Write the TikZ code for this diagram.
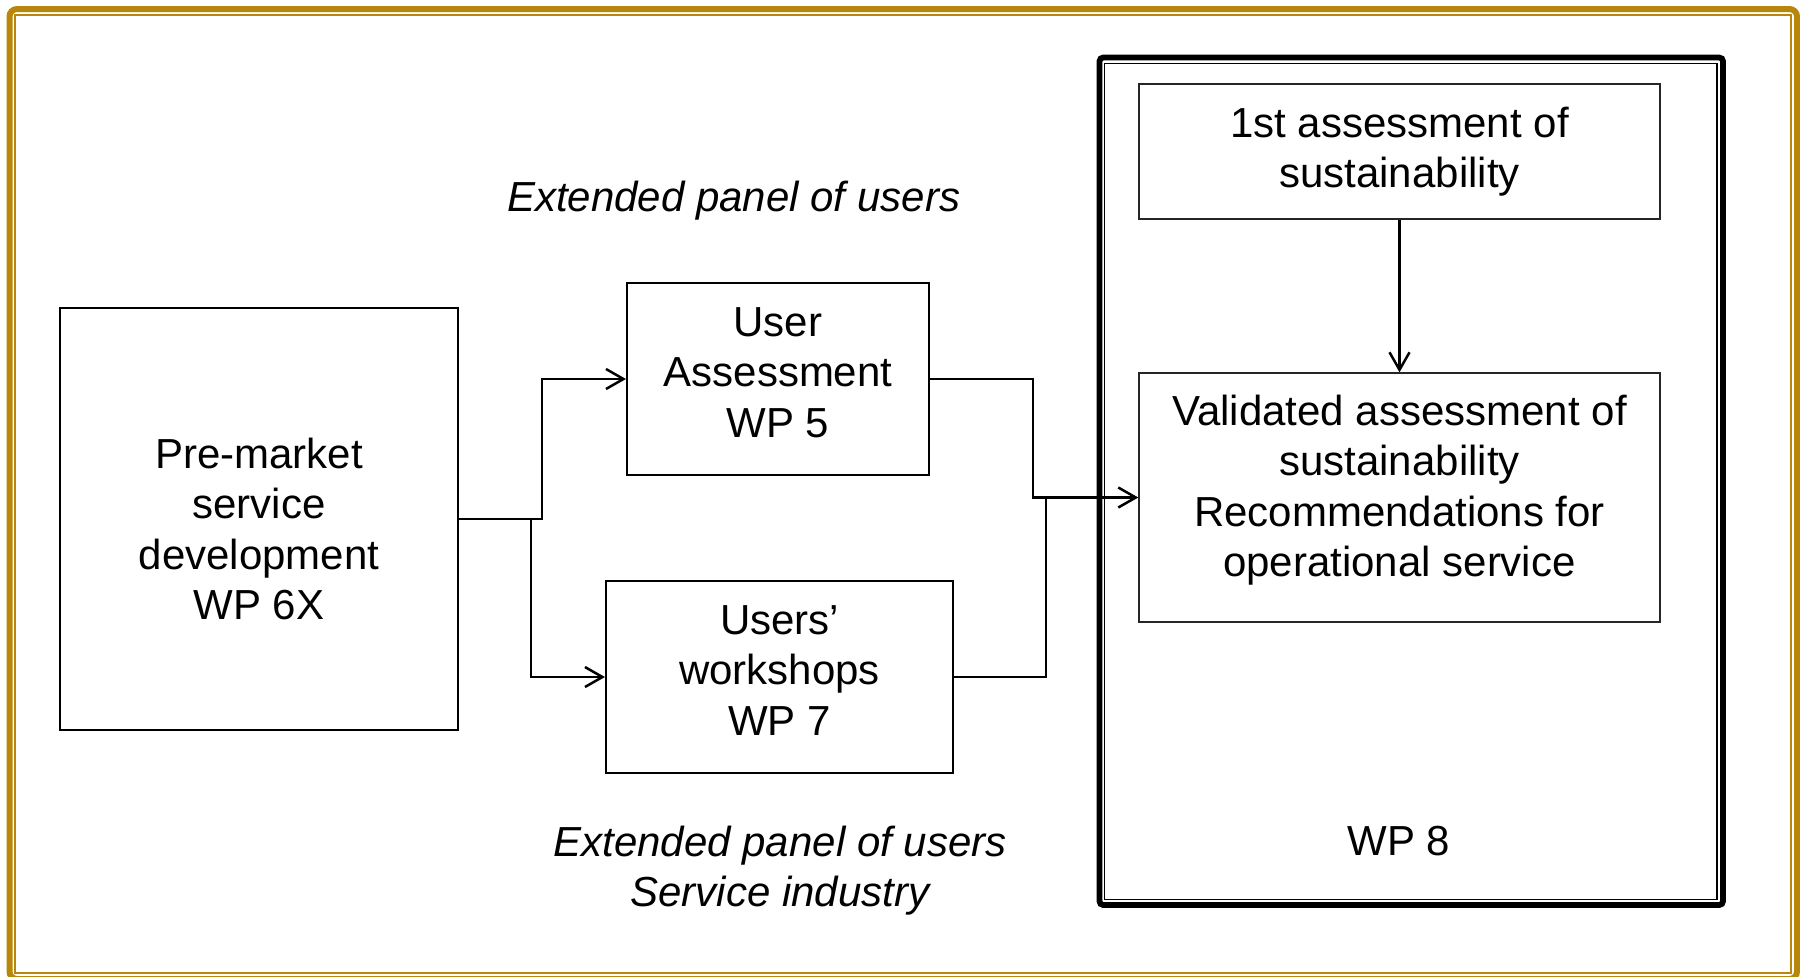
\documentclass[tikz,border=0pt]{standalone}
\usepackage{fontspec}
\setmainfont{Liberation Sans}
\usetikzlibrary{arrows.meta}
\definecolor{gold}{RGB}{184,134,11}
\begin{document}
\begin{tikzpicture}[x=0.4pt,y=-0.4pt,
  txt/.style={font=\fontsize{16.8}{20.2}\selectfont, align=center, inner sep=0pt},
  box/.style={draw=black, line width=0.8pt, inner sep=0pt},
  wpbox/.style={draw=black!85, line width=0.55pt, inner sep=0pt},
  lbl/.style={txt, font=\fontsize{16.8}{20.2}\selectfont\itshape},
  conn/.style={line width=1pt, -{Straight Barb[length=7pt,width=8pt]}},
  line/.style={line width=1pt}]
\useasboundingbox (0,0) rectangle (1800,976);
\fill[white] (0,0) rectangle (1800,976);
% gold page border
\draw[gold, line width=2.4pt, rounded corners=3pt] (9.5,9) rectangle (1797,979);
\draw[gold, line width=0.8pt] (15,15) rectangle (1791,973);
% WP8 frame
\node[draw=black, line width=2.3pt, rounded corners=1.5pt, minimum width=249.4pt, minimum height=339pt, inner sep=0pt] (frame) at (1411.25,481.25) {};
\node[draw=black, line width=0.6pt, minimum width=245pt, minimum height=334.4pt, inner sep=0pt] (frameinner) at (1410.75,481.5) {};
% boxes
\node[box, minimum width=159.2pt, minimum height=168.8pt] (pre) at (259,519) {};
\node[txt, yshift=-4pt] (pretext) at (pre.center) {Pre-market\\service\\development\\WP 6X};
\node[box, minimum width=120.8pt, minimum height=76.8pt] (ua) at (778,379) {};
\node[txt, yshift=2.6pt] (uatext) at (ua.center) {User\\Assessment\\WP 5};
\node[box, minimum width=138.8pt, minimum height=76.8pt] (uw) at (779.5,677) {};
\node[txt, yshift=2.6pt] (uwtext) at (uw.center) {Users’\\workshops\\WP 7};
\node[wpbox, minimum width=208.4pt, minimum height=54pt] (fa) at (1399.5,151.5) {};
\node[txt] (fatext) at (fa.center) {1st assessment of\\sustainability};
\node[wpbox, minimum width=208.4pt, minimum height=99.6pt] (va) at (1399.5,497.5) {};
\node[txt, yshift=3pt] (vatext) at (va.center) {Validated assessment of\\sustainability\\Recommendations for\\operational service};
% labels
\node[lbl] (ext1) at (733.6,201) {Extended panel of users};
\node[lbl] (ext2) at (780,870.5) {Extended panel of users\\Service industry};
\node[txt] (wp8) at (1399,841.5) {WP 8};
% connectors
\coordinate (split) at (531,519);
\coordinate (bend) at (1033,497.5);
\coordinate (merge) at (1046,497.5);
\draw[conn] (pre.east) -- (542,519) |- (ua.west);
\draw[conn] (split) |- (uw.west);
\draw[conn] (ua.east) -| (bend) -- (va.west);
\draw[line] (uw.east) -| (merge);
\draw[conn] (fa.south) -- (va.north);
\end{tikzpicture}
\end{document}
